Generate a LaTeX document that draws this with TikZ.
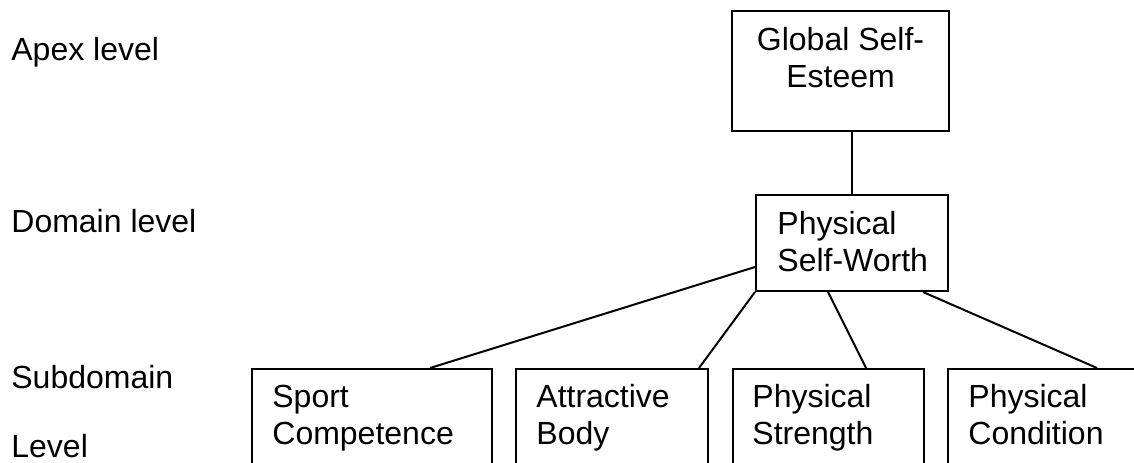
\documentclass[tikz,border=0pt]{standalone}
\usepackage{fontspec}
\setmainfont{Liberation Sans}
\usetikzlibrary{calc}
\tikzset{
  box/.style={draw=black, line width=1pt, inner sep=0pt, anchor=north west},
  link/.style={draw=black, line width=1pt},
  lab/.style={font=\fontsize{16}{18.5}\selectfont, inner sep=0pt, anchor=base west, align=left},
  labc/.style={font=\fontsize{16}{18.5}\selectfont, inner sep=0pt, anchor=base, align=center},
}

\begin{document}
\begin{tikzpicture}[x=0.5pt,y=-0.5pt]
  \useasboundingbox (0,0) rectangle (1134,462);
  \clip (0,0) rectangle (1134,462);
  % level names
  \node[lab] (apex) at (11,60) {Apex level};
  \node[lab] (domain) at (11,232) {Domain level};
  \node[lab] (subdom) at (11,388) {Subdomain};
  \node[lab] (level) at (11,457) {Level};
  % boxes
  \node[box, minimum width=108.5pt, minimum height=60pt] (glob) at (731,10) {};
  \node[box, minimum width=96pt, minimum height=48pt] (phys) at (755,194) {};
  \node[box, minimum width=120pt, minimum height=75pt] (sport) at (251,368) {};
  \node[box, minimum width=96pt, minimum height=75pt] (attr) at (515,368) {};
  \node[box, minimum width=95.5pt, minimum height=75pt] (stren) at (732,368) {};
  \node[box, minimum width=96.5pt, minimum height=75pt] (cond) at (947,368) {};
  % box texts (base = last line)
  \node[labc] (globt) at ($(glob.north)+(0,77)$) {Global Self-\\Esteem};
  \node[lab] (physt) at ($(phys.north west)+(22,77)$) {Physical\\Self-Worth};
  \node[lab] (sportt) at ($(sport.north west)+(21,76)$) {Sport\\Competence};
  \node[lab] (attrt) at ($(attr.north west)+(21,76)$) {Attractive\\Body};
  \node[lab] (strent) at ($(stren.north west)+(20,76)$) {Physical\\Strength};
  \node[lab] (condt) at ($(cond.north west)+(21,76)$) {Physical\\Condition};
  % connectors
  \draw[link] (phys.north) -- (phys.north |- glob.south);
  \draw[link] ($(phys.north west)+(0,73)$) -- ($(sport.north west)+(179,0)$);
  \draw[link] (phys.south west) -- ($(attr.north east)+(-10,0)$);
  \draw[link] ($(phys.south west)+(73,0)$) -- ($(stren.north west)+(134,0)$);
  \draw[link] ($(phys.south west)+(168,0)$) -- ($(cond.north west)+(150,0)$);
\end{tikzpicture}
\end{document}
